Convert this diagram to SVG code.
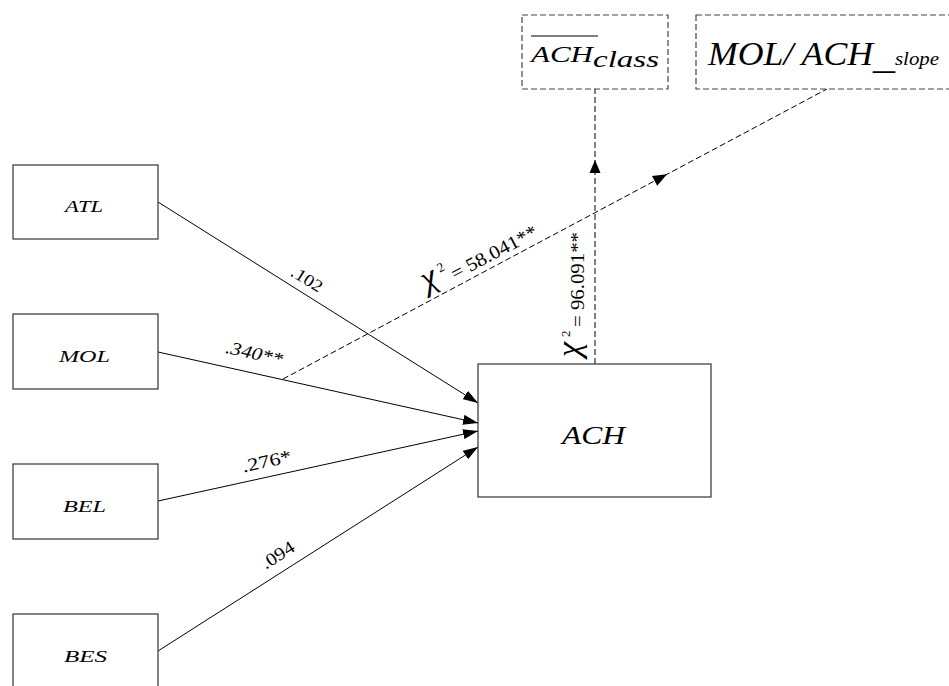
<svg xmlns="http://www.w3.org/2000/svg" width="949" height="686" viewBox="0 0 949 686">
<defs>
<style>
.box{fill:#fff;stroke:#333;stroke-width:1.2}
.dbox{fill:#fff;stroke:#444;stroke-width:1.2;stroke-dasharray:6,3}
.ln{stroke:#000;stroke-width:1;fill:none}
.dln{stroke:#000;stroke-width:1;fill:none;stroke-dasharray:6,3}
text{fill:#000}
</style>
<marker id="arr" viewBox="0 0 15 10" refX="15" refY="5" markerWidth="15" markerHeight="10" markerUnits="userSpaceOnUse" orient="auto">
<path d="M0,0 L15,5 L0,10 z" fill="#000"/>
</marker>
</defs>
<rect width="949" height="686" fill="#fff"/>

<g id="connectors" font-family="Liberation Serif, DejaVu Serif, serif">
<line class="ln" x1="158" y1="202" x2="478" y2="403" marker-end="url(#arr)"/>
<line class="ln" x1="158" y1="352" x2="478" y2="423" marker-end="url(#arr)"/>
<line class="ln" x1="158" y1="501" x2="478" y2="431" marker-end="url(#arr)"/>
<line class="ln" x1="158" y1="651" x2="478" y2="447" marker-end="url(#arr)"/>
<line class="dln" x1="595" y1="364" x2="595" y2="89"/>
<polygon points="595,160 589.5,173 600.5,173" fill="#000"/>
<line class="dln" x1="283" y1="379" x2="827" y2="89"/>
<polygon points="667,174.3 657.2,185.7 652,176" fill="#000"/>
<text font-size="17" text-anchor="middle" textLength="34" lengthAdjust="spacingAndGlyphs" transform="translate(304,284) rotate(32)">.102</text>
<text font-size="18" font-style="italic" text-anchor="middle" textLength="58" lengthAdjust="spacingAndGlyphs" transform="translate(253,359) rotate(12.5)">.340**</text>
<text font-size="18" text-anchor="middle" textLength="50" lengthAdjust="spacingAndGlyphs" transform="translate(268,467) rotate(-12.5)">.276*</text>
<text font-size="18" text-anchor="middle" textLength="36" lengthAdjust="spacingAndGlyphs" transform="translate(281,560) rotate(-32.5)">.094</text>
<g transform="translate(428.6,294.4) rotate(-28)">
<text font-size="34" font-style="italic" x="0" y="-4">χ</text>
<text font-size="13" x="20" y="-14">2</text>
<text font-size="19" x="30" y="0" textLength="95" lengthAdjust="spacingAndGlyphs">= 58.041**</text>
</g>
<g transform="translate(584,357) rotate(-90)">
<text font-size="34" font-style="italic" x="0" y="-4">χ</text>
<text font-size="13" x="20" y="-14">2</text>
<text font-size="19" x="30" y="0" textLength="95" lengthAdjust="spacingAndGlyphs">= 96.091**</text>
</g>
</g>

<g id="node-ATL" font-family="Liberation Serif, DejaVu Serif, serif" font-style="italic">
<rect class="box" x="13" y="165" width="145" height="74"/>
<text font-size="17" x="65" y="212" textLength="38" lengthAdjust="spacingAndGlyphs">ATL</text>
</g>
<g id="node-MOL" font-family="Liberation Serif, DejaVu Serif, serif" font-style="italic">
<rect class="box" x="13" y="314" width="145" height="75"/>
<text font-size="17" x="59" y="362" textLength="51" lengthAdjust="spacingAndGlyphs">MOL</text>
</g>
<g id="node-BEL" font-family="Liberation Serif, DejaVu Serif, serif" font-style="italic">
<rect class="box" x="13" y="464" width="145" height="75"/>
<text font-size="17" x="63" y="512" textLength="43" lengthAdjust="spacingAndGlyphs">BEL</text>
</g>
<g id="node-BES" font-family="Liberation Serif, DejaVu Serif, serif" font-style="italic">
<rect class="box" x="13" y="614" width="145" height="80"/>
<text font-size="17" x="64" y="662" textLength="43" lengthAdjust="spacingAndGlyphs">BES</text>
</g>
<g id="node-ACH" font-family="Liberation Serif, DejaVu Serif, serif" font-style="italic">
<rect class="box" x="478" y="364" width="233" height="133"/>
<text font-size="26" x="562" y="444" textLength="63" lengthAdjust="spacingAndGlyphs">ACH</text>
</g>
<g id="node-ACH-class" font-family="Liberation Serif, DejaVu Serif, serif" font-style="italic">
<rect class="dbox" x="522" y="15" width="146" height="74"/>
<line x1="531" y1="36" x2="598" y2="36" stroke="#000" stroke-width="1.2"/>
<text font-size="24" x="531" y="62" textLength="62" lengthAdjust="spacingAndGlyphs">ACH</text>
<text font-size="24" x="593" y="67" textLength="66" lengthAdjust="spacingAndGlyphs">class</text>
</g>
<g id="node-MOL-ACH-slope" font-family="Liberation Serif, DejaVu Serif, serif" font-style="italic">
<rect class="dbox" x="696" y="15" width="262" height="74"/>
<text font-size="33" x="708" y="65" textLength="165" lengthAdjust="spacingAndGlyphs">MOL/ ACH</text>
<text font-size="33" x="873" y="69" textLength="22" lengthAdjust="spacingAndGlyphs">_</text>
<text font-size="19" x="895" y="65" textLength="44" lengthAdjust="spacingAndGlyphs">slope</text>
</g>
</svg>
